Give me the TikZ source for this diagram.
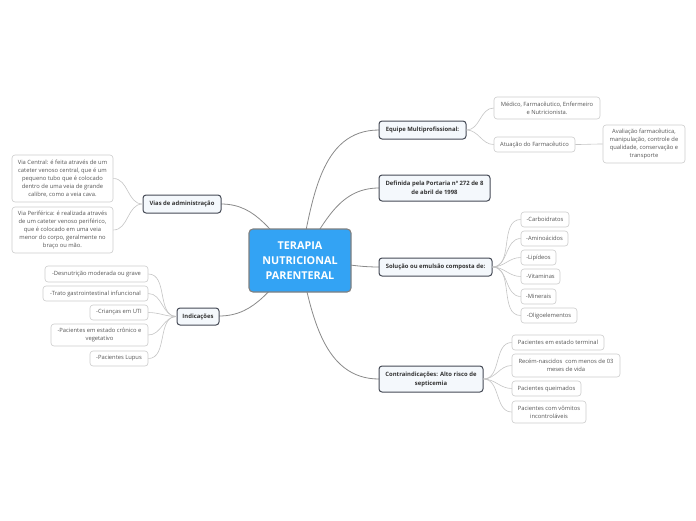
\documentclass[tikz,border=0pt]{standalone}
\usepackage{fontspec}
\setmainfont{Open Sans}
\definecolor{cfill}{HTML}{33A3F4}
\definecolor{cborder}{HTML}{808080}
\definecolor{mfill}{HTML}{F4F8FC}
\definecolor{mborder}{HTML}{454A55}
\definecolor{lborder}{HTML}{CCCCCC}
\definecolor{ltext}{HTML}{555555}
\definecolor{mline}{HTML}{8A8A8A}
\definecolor{lline}{HTML}{C4C4C4}
\tikzset{
  central/.style={draw=cborder, line width=1.1pt, fill=cfill, rounded corners=4pt, text=white,
    font=\fontsize{10.8}{15}\selectfont\bfseries, align=center, inner sep=0pt},
  mainbox/.style={draw=mborder, line width=1pt, fill=mfill, rounded corners=3pt, text=black!80,
    font=\fontsize{5.9}{9}\selectfont\bfseries, align=center, inner sep=0pt},
  leaf/.style={draw=lborder, line width=0.6pt, fill=white, rounded corners=3pt, text=ltext,
    font=\fontsize{5.8}{8}\selectfont, align=center, inner sep=0pt},
  mconn/.style={draw=mline, line width=0.8pt},
  lconn/.style={draw=lline, line width=0.6pt},
}
\begin{document}
\begin{tikzpicture}[x=1pt,y=-1pt]
\useasboundingbox (0,0) rectangle (696,520);
% named end points of the main connectors
\coordinate (cc) at (300,260);
\coordinate (eqw) at (379,130);
\coordinate (dfw) at (379,188);
\coordinate (sow) at (379,267);
\coordinate (cow) at (379,379);
\coordinate (vie) at (221,204);
\coordinate (ine) at (219,316);
\draw[mconn] (cc) to[out=78,in=180] (eqw);
\draw[mconn] (cc) to[out=55,in=180] (dfw);
\draw[mconn] (cc) to[out=0,in=180] (sow);
\draw[mconn] (cc) to[out=-78,in=180] (cow);
\draw[mconn] (cc) to[out=140,in=0] (vie);
\draw[mconn] (cc) to[out=-140,in=0] (ine);

% central
\node[central, minimum width=102, minimum height=63] (c) at (300,260.5) {TERAPIA\\NUTRICIONAL\\PARENTERAL};

% main nodes
\node[mainbox, minimum width=87, minimum height=18] (eq) at (422.5,130) {Equipe Multiprofissional:};
\node[mainbox, minimum width=111, minimum height=26] (df) at (434.5,188) {Definida pela Portaria nº 272 de 8\\de abril de 1998};
\node[mainbox, minimum width=113, minimum height=18] (so) at (435.5,267) {Solução ou emulsão composta de:};
\node[mainbox, minimum width=104, minimum height=26] (co) at (431,379) {Contraindicações: Alto risco de\\septicemia};
\node[mainbox, minimum width=78, minimum height=18] (vi) at (182,204) {Vias de administração};
\node[mainbox, minimum width=42, minimum height=17] (in) at (198,316.5) {Indicações};

% leaves
\node[leaf, minimum width=106, minimum height=22] (l1) at (547,108) {Médico, Farmacêutico, Enfermeiro\\e Nutricionista.};
\node[leaf, minimum width=81, minimum height=15] (l2) at (534.5,144.5) {Atuação do Farmacêutico};
\node[leaf, minimum width=82, minimum height=38] (l3) at (644,144) {Avaliação farmacêutica,\\manipulação, controle de\\qualidade, conservação e\\transporte};

\node[leaf, minimum width=48, minimum height=15] (s1) at (545,219.5) {-Carboidratos};
\node[leaf, minimum width=47, minimum height=15] (s2) at (544.5,238.5) {-Aminoácidos};
\node[leaf, minimum width=35, minimum height=15] (s3) at (538.5,257.5) {-Lipídeos};
\node[leaf, minimum width=39, minimum height=15] (s4) at (540.5,276.5) {-Vitaminas};
\node[leaf, minimum width=35, minimum height=15] (s5) at (538.5,296.5) {-Minerais};
\node[leaf, minimum width=56, minimum height=15] (s6) at (549,315.5) {-Oligoelementos};

\node[leaf, minimum width=92, minimum height=15] (k1) at (558,342.5) {Pacientes em estado terminal};
\node[leaf, minimum width=108, minimum height=23] (k2) at (566,365.5) {Recém-nascidos\ \ com menos de 03\\meses de vida};
\node[leaf, minimum width=69, minimum height=15] (k3) at (546.5,388.5) {Pacientes queimados};
\node[leaf, minimum width=74, minimum height=22] (k4) at (549,412) {Pacientes com vômitos\\incontroláveis};

\node[leaf, minimum width=101, minimum height=47] (v1) at (62.5,178.5) {Via Central: é feita através de um\\cateter venoso central, que é um\\pequeno tubo que é colocado\\dentro de uma veia de grande\\calibre, como a veia cava.};
\node[leaf, minimum width=101, minimum height=46] (v2) at (62.5,230) {Via Periférica: é realizada através\\de um cateter venoso periférico,\\que é colocado em uma veia\\menor do corpo, geralmente no\\braço ou mão.};

\node[leaf, minimum width=103, minimum height=16] (i1) at (96.5,274) {-Desnutrição moderada ou grave};
\node[leaf, minimum width=105, minimum height=15] (i2) at (95.5,293.5) {-Trato gastrointestinal infuncional};
\node[leaf, minimum width=58, minimum height=15] (i3) at (119,312.5) {-Crianças em UTI};
\node[leaf, minimum width=97, minimum height=22] (i4) at (99.5,335) {-Pacientes em estado crônico e\\vegetativo};
\node[leaf, minimum width=58, minimum height=15] (i5) at (119,358.5) {-Pacientes Lupus};

% leaf connectors
\foreach \p/\l in {eq/l1,eq/l2,l2/l3,so/s1,so/s2,so/s3,so/s4,so/s5,so/s6,co/k1,co/k2,co/k3,co/k4}{
  \draw[lconn] (\p.east) to[out=0,in=180] (\l.west);
}
\foreach \p/\l in {vi/v1,vi/v2,in/i1,in/i2,in/i3,in/i4,in/i5}{
  \draw[lconn] (\p.west) to[out=180,in=0] (\l.east);
}
\end{tikzpicture}
\end{document}
